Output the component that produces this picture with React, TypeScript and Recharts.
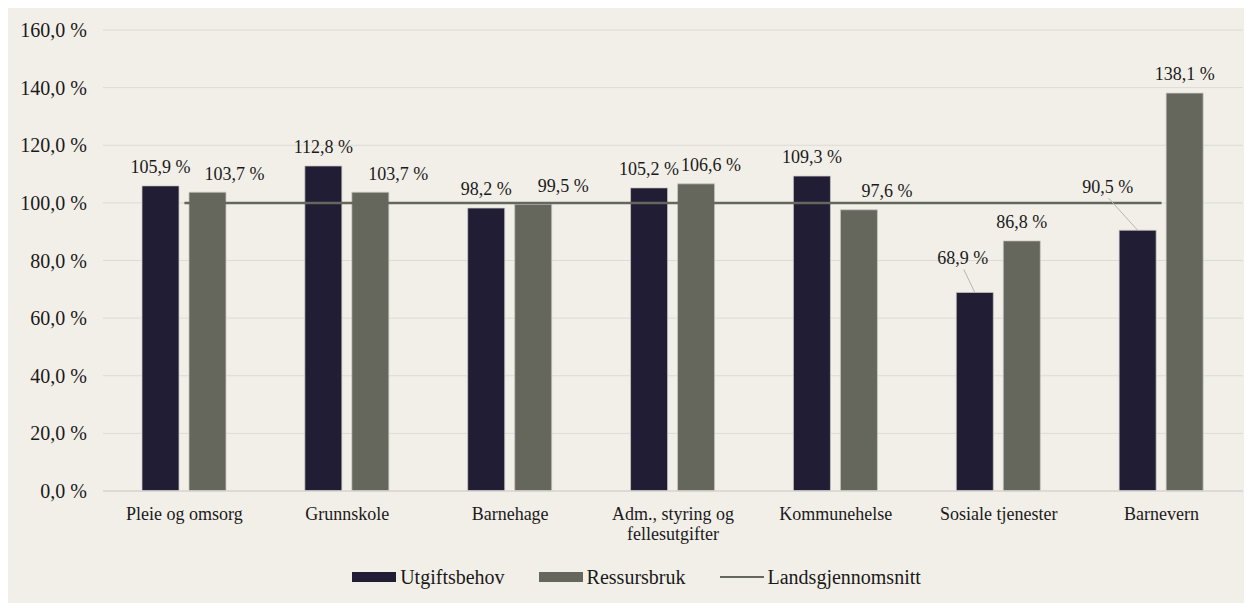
import { Bar, Line, XAxis, YAxis, CartesianGrid, Legend, LabelList, Text, ComposedChart } from 'recharts';

// Kommunens utgiftsbehov og ressursbruk i prosent av landsgjennomsnittet
const categories = [
  'Pleie og omsorg',
  'Grunnskole',
  'Barnehage',
  'Adm., styring og fellesutgifter',
  'Kommunehelse',
  'Sosiale tjenester',
  'Barnevern',
];
const utgiftsbehov = [105.9, 112.8, 98.2, 105.2, 109.3, 68.9, 90.5];
const ressursbruk = [103.7, 103.7, 99.5, 106.6, 97.6, 86.8, 138.1];
const landsgjennomsnitt = [100, 100, 100, 100, 100, 100, 100];
const yTicks = [0, 20, 40, 60, 80, 100, 120, 140, 160];

const DARK = '#211d35';
const GREY = '#65665c';
const BG = '#f2efe9';
const TEXT = '#1a1a1a';
const FONT = '"Liberation Serif", "Times New Roman", serif';

// label nudges (px) so the labels don't collide, like the original Excel layout
const utgiftNudge: Record<number, { dx: number; dy: number; leader?: boolean }> = {
  5: { dx: -12, dy: -16, leader: true },
  6: { dx: -30, dy: -25, leader: true },
};
const ressursNudge: Record<number, { dx: number; dy: number; leader?: boolean }> = {
  0: { dx: 27, dy: 0 },
  1: { dx: 28, dy: 0 },
  2: { dx: 30, dy: 0 },
  3: { dx: 15, dy: 0 },
  4: { dx: 28, dy: 0 },
};

const data = categories.map((name, i) => ({
  name,
  utgift: utgiftsbehov[i],
  ressurs: ressursbruk[i],
  snitt: landsgjennomsnitt[i],
}));

const pct = (v: number) => `${v.toFixed(1).replace('.', ',')} %`;

const makeLabel = (nudges: typeof utgiftNudge) => (props: any) => {
  const { x, y, width, value, index } = props;
  const cx = Number(x) + Number(width) / 2;
  const top = Number(y);
  const n = nudges[index] || { dx: 0, dy: 0 };
  const lx = cx + n.dx;
  const ly = top - 19 + n.dy;
  return (
    <g>
      {n.leader && (
        <line x1={lx + 1} y1={ly + 12} x2={cx} y2={top} stroke="#b5b5b5" strokeWidth={1} />
      )}
      <text
        x={lx}
        y={ly}
        dy="0.35em"
        textAnchor="middle"
        fontSize={18}
        fontFamily={FONT}
        fill={TEXT}
      >
        {pct(Number(value))}
      </text>
    </g>
  );
};

const CategoryTick = (props: any) => {
  const { x, y, payload } = props;
  return (
    <Text
      x={x}
      y={y + 8}
      width={140}
      textAnchor="middle"
      verticalAnchor="start"
      lineHeight="1.1em"
      style={{ fontSize: 18, fontFamily: FONT }}
      fontSize={18}
      fontFamily={FONT}
      fill={TEXT}
    >
      {payload.value}
    </Text>
  );
};

const LegendContent = () => {
  const items = [
    { label: 'Utgiftsbehov', color: DARK, kind: 'bar' },
    { label: 'Ressursbruk', color: GREY, kind: 'bar' },
    { label: 'Landsgjennomsnitt', color: GREY, kind: 'line' },
  ];
  return (
    <div
      style={{
        height: 62,
        boxSizing: 'border-box',
        paddingTop: 24,
        paddingLeft: 22,
        display: 'flex',
        justifyContent: 'center',
        alignItems: 'flex-start',
        fontFamily: FONT,
        fontSize: 20,
        color: TEXT,
      }}
    >
      {items.map((it, i) => (
        <div
          key={it.label}
          style={{ display: 'flex', alignItems: 'center', marginLeft: i === 0 ? 0 : 34, lineHeight: '24px' }}
        >
          <span
            style={{
              display: 'inline-block',
              width: 44,
              height: it.kind === 'bar' ? 10 : 2,
              background: it.color,
              marginRight: 4,
            }}
          />
          <span>{it.label}</span>
        </div>
      ))}
    </div>
  );
};

export default function App() {
  return (
    <div style={{ width: 1244, height: 595, background: BG }}>
      <ComposedChart
        width={1244}
        height={595}
        data={data}
        margin={{ top: 22, right: 9, left: 0, bottom: 0 }}
        barSize={37}
        barGap={10}
      >
        <CartesianGrid horizontal vertical={false} stroke="#dcdad6" strokeWidth={1} />
        <XAxis
          dataKey="name"
          interval={0}
          height={50}
          tickLine={false}
          axisLine={{ stroke: '#d9d7d3', strokeWidth: 1.5 }}
          tick={<CategoryTick />}
        />
        <YAxis
          width={95}
          domain={[0, 160]}
          ticks={yTicks}
          tickLine={false}
          axisLine={false}
          tickMargin={10}
          tickFormatter={pct}
          tick={{ fontSize: 20, fontFamily: FONT, fill: TEXT }}
        />
        <Legend verticalAlign="bottom" content={<LegendContent />} />
        <Bar dataKey="utgift" name="Utgiftsbehov" fill={DARK} stroke="#c9c7c3" strokeWidth={0.75} isAnimationActive={false}>
          <LabelList dataKey="utgift" content={makeLabel(utgiftNudge)} />
        </Bar>
        <Bar dataKey="ressurs" name="Ressursbruk" fill={GREY} stroke="#c9c7c3" strokeWidth={0.75} isAnimationActive={false}>
          <LabelList dataKey="ressurs" content={makeLabel(ressursNudge)} />
        </Bar>
        <Line
          dataKey="snitt"
          name="Landsgjennomsnitt"
          type="linear"
          stroke={GREY}
          strokeWidth={2.5}
          dot={false}
          activeDot={false}
          isAnimationActive={false}
        />
      </ComposedChart>
    </div>
  );
}
